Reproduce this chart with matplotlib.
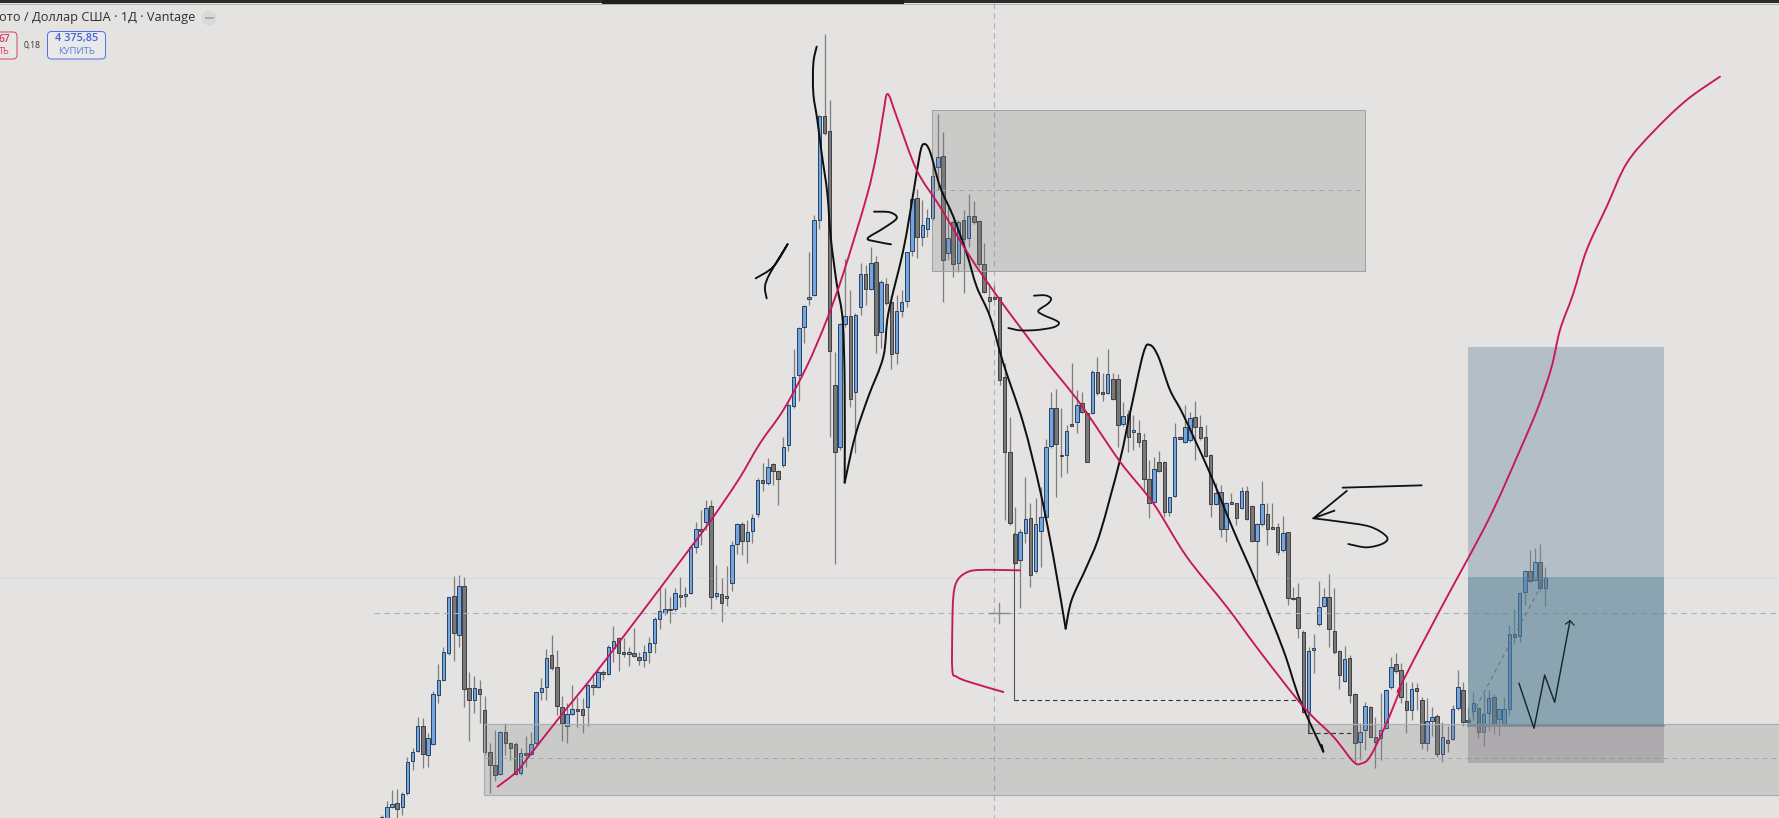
import numpy as np
import matplotlib
matplotlib.use("Agg")
import matplotlib.pyplot as plt
from matplotlib.patches import Rectangle, FancyBboxPatch, Circle, PathPatch
from matplotlib.path import Path

# ---- candle values, read segment by segment (levels on the picture scale) ----
seg1_open = [1012,1014,980,970,982,940,843,812,739,826,791,646,600,518,348,466,318,625,660,628,691,817,856,882,757,790,791,880,820,822,790,637,622,526,560,680,737,703,687,688,680,615,620,577,583,505,474,517,522,518,530,540,517,490,418,398,386,388,344,348,340,200,148,127,77,347,342,355,310,193,133,182,152]
seg1_close = [1022,980,973,986,942,845,815,737,823,775,643,600,515,352,458,318,626,660,625,643,817,856,886,757,788,804,882,818,822,791,637,625,535,565,678,730,703,688,689,706,615,617,575,582,500,484,520,520,515,527,539,515,490,418,394,386,390,340,350,341,202,148,153,85,350,340,368,348,195,133,184,157,115]
seg1_high = [1005,962,930,928,935,830,803,712,715,760,632,552,502,350,287,285,292,577,587,600,647,790,750,752,730,785,785,805,767,755,635,595,507,465,510,648,670,615,650,655,612,580,560,570,495,438,470,475,500,445,515,495,470,410,320,323,350,325,292,320,195,127,90,60,60,255,293,258,183,128,125,120,103]
seg1_low = [1030,1020,985,1014,1005,945,870,815,865,860,795,668,603,524,543,500,680,784,700,730,825,940,902,885,825,840,885,884,860,825,795,660,660,570,705,782,790,705,740,758,737,645,625,600,585,545,572,530,557,530,555,562,548,518,447,405,430,392,380,380,342,218,195,150,387,358,425,378,333,222,225,248,188]

seg2_open = [1482,1380,1390,1333,1352,1335,1275,1157,1065,920,838,825,600,288,332,1095,1280,912,887,1117,862,762,808,727,937,792,845,1000,872,842,694,535,650,626,595,440,408,700,607,730,600,653,588,603,733,832,832,832]
seg2_close = [1380,1390,1340,1353,1378,1280,1156,1070,925,857,830,600,287,340,993,1295,912,887,1138,885,762,808,730,945,785,850,1003,872,845,697,538,650,615,595,467,412,720,655,732,607,657,587,605,733,817,842,838,1080]
seg2_high = [1375,1330,1315,1330,1350,1252,1150,988,920,855,695,585,285,43,240,995,910,718,810,880,728,735,682,708,780,773,825,825,810,695,520,507,540,568,430,283,337,560,600,600,570,522,542,600,670,790,795,830]
seg2_low = [1490,1413,1395,1395,1455,1340,1293,1165,1143,970,855,828,628,345,1250,1632,1290,920,1160,1300,885,855,810,1000,985,855,1048,1033,890,862,707,715,678,650,600,510,845,720,770,755,820,680,612,740,820,880,840,1095]

seg3_open = [110,337,582,660,580,533,693,574,530,318,205,344,345,252,247,190,220,220,95,157,158,118,116,252,223,277,278,300,418,487,367,365,515,468,291,305,300,230,260,290,344,493,457,568,487,490,505,454,497,604,552,522,562,560,630,577,773,770,877,1115,930,853,798,770,872,932,1022,955,1063,1207,1170,1100,1190,1195,1165,1042,973]
seg3_close = [337,550,670,577,538,706,552,532,322,205,313,347,272,254,195,215,365,95,160,160,103,178,255,227,290,271,307,418,488,386,393,517,472,292,296,260,235,260,295,347,493,460,568,490,490,535,452,537,604,552,492,567,563,635,580,775,776,865,1117,932,923,802,770,868,935,1005,957,1065,1210,1177,1097,1190,1205,1170,1050,980,993]
seg3_high = [70,232,500,567,410,488,475,440,298,155,147,205,255,70,150,155,215,90,52,100,28,100,102,185,210,225,240,278,360,350,333,362,470,250,287,195,215,182,225,255,342,430,435,487,458,488,440,438,495,548,422,490,490,550,527,575,742,728,870,920,883,722,743,702,745,930,918,945,1060,1150,1085,1097,1130,1060,1047,952,940]
seg3_low = [540,555,672,803,610,742,700,680,535,323,472,410,400,255,280,220,367,222,165,182,162,180,320,258,335,330,322,450,533,490,395,530,528,472,298,310,305,360,300,350,530,495,590,605,490,555,508,540,607,725,557,615,565,645,635,795,780,893,1120,1180,1000,858,800,920,942,1048,1025,1088,1265,1260,1230,1192,1285,1260,1167,1048,1000]

seg4_open = [450,543,570,505,540,670,602,588,703,660,658,563,510,600,572,565,637,580,530,598,613,568,342,347,215,152,180,125,203]
seg4_close = [530,570,508,513,668,603,592,703,650,668,568,500,605,605,550,635,583,535,613,568,568,343,352,218,153,182,127,205,173]
seg4_high = [430,487,487,490,530,535,562,583,605,618,555,450,485,560,517,560,518,510,522,565,530,315,268,215,150,90,85,73,142]
seg4_low = [548,640,600,570,688,692,647,710,725,695,660,570,618,620,600,655,677,632,642,645,615,585,372,365,255,185,182,212,257]

black_a = [(230,80),(220,130),(220,220),(232,300),(245,400),(262,520),(272,650),(290,790),(308,900),(314,1100),(314,1388)]
black_b = [(314,1388),(345,1250),(385,1130),(430,1010),(445,880),(490,690),(520,520),(540,400),(552,372),(570,395),(600,500),(640,590),(680,700),(710,800),(750,890),(790,1030)]
black_c = [(70,250),(120,450),(160,650),(197,866)]
black_d = [(197,866),(215,780),(260,680),(300,580),(360,360),(390,220),(430,40),(450,15),(475,50),(510,150),(550,225),(630,400),(700,570),(770,730),(850,930),(900,1080),(970,1235)]
black_tick = [(965,1215),(970,1235)]
pink_a = [(383,920),(440,875),(480,825),(570,710),(660,600),(760,470),(870,325),(960,205),(1020,125),(1105,0)]
pink_b = [(60,1270),(130,1170),(200,1040),(260,900),(310,760),(380,530),(410,400),(430,280),(443,222),(470,290),(530,450),(600,560),(690,710),(780,840),(900,1000)]
pink_c = [(240,190),(360,365),(460,490),(560,650),(680,800),(780,935),(910,1100),(1000,1190),(1060,1265),(1085,1270),(1110,1250),(1155,1160),(1200,1050)]
pink_d = [(60,500),(180,270),(325,0)]
pink_e = [(120,1170),(175,1040),(215,920),(240,810),(280,700),(320,570),(380,440),(440,310),(520,215),(620,120),(720,50)]
pink_bracket = [(240,31),(115,30),(75,40),(50,65),(40,110),(37,200),(37,330),(50,350),(85,365),(190,396)]
digit_1 = [(47,775),(100,740),(143,672),(90,760),(75,800),(80,835)]
digit_2 = [(402,575),(450,577),(470,595),(430,625),(383,655),(410,665),(453,673)]
digit_3 = [(162,77),(195,76),(213,85),(205,100),(175,122),(190,135),(225,150),(237,160),(220,172),(170,180),(120,181),(85,174)]
digit_5_bar = [(1028,443),(1265,436)]
digit_5_arrow = [(1040,453),(940,535),(1003,512)]
digit_5_bowl = [(940,535),(1020,545),(1110,560),(1160,590),(1150,610),(1100,622),(1045,612)]
plan_zig = [(417,490),(462,625),(494,465),(524,547),(570,302)]
plan_head = [(557,312),(570,302),(582,315)]

BG = "#e4e3e2"
fig = plt.figure(figsize=(17.79, 8.18), dpi=100, facecolor=BG)
W, H = 1779, 818
px = 0.72  # one pixel in points

def lv(origin, step, raw):
    return origin + np.asarray(raw, float) / step

opens = np.concatenate([lv(480,3,seg1_open), lv(20,3,seg2_open), lv(340,3,seg3_open), lv(520,3,seg4_open)])
closes = np.concatenate([lv(480,3,seg1_close), lv(20,3,seg2_close), lv(340,3,seg3_close), lv(520,3,seg4_close)])
highs = np.concatenate([lv(480,3,seg1_high), lv(20,3,seg2_high), lv(340,3,seg3_high), lv(520,3,seg4_high)])
lows = np.concatenate([lv(480,3,seg1_low), lv(20,3,seg2_low), lv(340,3,seg3_low), lv(520,3,seg4_low)])
idx = np.arange(len(opens))

# candle axes: one index unit = 5.149 px
x0, step = 381.7, 5.149
ax = fig.add_axes([0, 0, 1, 1])
ax.set_xlim((0 - x0) / step, (W - x0) / step)
ax.set_ylim(H, 0)
ax.axis("off")

up = closes < opens
ax.vlines(idx, highs, lows, color="#5c5c5e", lw=1.3 * px, alpha=0.75, zorder=2)
top = np.minimum(opens, closes)
hgt = np.maximum(np.abs(opens - closes), 1.5)
ax.bar(idx[up], hgt[up], bottom=top[up], width=0.68, color="#74a6de", edgecolor="#2a4468", lw=1.0 * px, zorder=3)
ax.bar(idx[~up], hgt[~up], bottom=top[~up], width=0.68, color="#78787a", edgecolor="#424245", lw=1.0 * px, zorder=3)

# overlay in picture units
ov = fig.add_axes([0, 0, 1, 1], facecolor="none")
ov.set_xlim(0, W)
ov.set_ylim(H, 0)
ov.axis("off")

def rect(x1, y1, x2, y2, fc, a, ec="none", lw=0, z=4):
    ov.add_patch(Rectangle((x1, y1), x2 - x1, y2 - y1, facecolor=fc, alpha=a, edgecolor="none", zorder=z))
    if ec != "none":
        ov.add_patch(Rectangle((x1, y1), x2 - x1, y2 - y1, fill=False, edgecolor=ec, lw=lw, zorder=z))

DASH = (0, (5, 4))
# crosshair and level lines
ov.plot([994, 994], [3, H], color="#b0b0b0", lw=1.1 * px, ls=DASH, zorder=1)
ov.plot([374, W], [612.5, 612.5], color="#b0b0b0", lw=1.1 * px, ls=DASH, zorder=1)
ov.plot([0, W], [577.7, 577.7], color="#bcc6e6", lw=1 * px, ls=(0, (1, 2)), zorder=1)

# zones
rect(932, 110, 1365, 270.5, "#808080", 0.25, "#a0a0a0", 1.0 * px)
ov.plot([932, 1365], [190, 190], color="#a5a5a5", lw=1 * px, ls=DASH, zorder=4)
rect(484, 723.5, W + 5, 795, "#808080", 0.25, "#adadad", 1.2 * px)
ov.plot([484, W], [758.3, 758.3], color="#a5a5a5", lw=1 * px, ls=DASH, zorder=4)

# long-position box
rect(1467.5, 347, 1664, 577, "#728da2", 0.42, z=5)
rect(1467.5, 577, 1664, 726, "#557e95", 0.62, z=5)
rect(1467.5, 726, 1664, 762.5, "#8d868f", 0.45, z=5)
ov.plot([1467.5, 1664], [726, 726], color="#7c8a92", lw=1.6 * px, zorder=6)

def z2f(pts, ox, oy):
    a = np.asarray(pts, float)
    return ox + a[:, 0] / 3, oy + a[:, 1] / 3

def smooth(xs, ys, color, lw, z=8):
    p = np.column_stack([xs, ys])
    verts = [p[0]]
    codes = [Path.MOVETO]
    n = len(p)
    for i in range(n - 1):
        m0 = (p[i + 1] - p[max(i - 1, 0)]) / 6
        m1 = (p[min(i + 2, n - 1)] - p[i]) / 6
        verts += [p[i] + m0, p[i + 1] - m1, p[i + 1]]
        codes += [Path.CURVE4] * 3
    ov.add_patch(PathPatch(Path(verts, codes), fill=False, edgecolor=color, lw=lw * px,
                           capstyle="round", joinstyle="round", zorder=z))

def joined(parts):
    xs, ys = [], []
    for pts, ox, oy in parts:
        a, b = z2f(pts, ox, oy)
        xs += list(a)
        ys += list(b)
    return xs, ys

PINK, INK = "#c8175f", "#111111"
# dashed measuring lines
ov.plot([1014.3, 1300], [700, 700], color="#333333", lw=1.1 * px, zorder=7, dashes=(4, 3))
ov.plot([1014.3, 1014.3], [533, 700], color="#555555", lw=1.1 * px, zorder=7)
ov.plot([1307.7, 1307.7], [711.7, 733.3], color="#555555", lw=1.1 * px, zorder=7)
ov.plot([1307.7, 1353], [733.3, 733.3], color="#333333", lw=1.1 * px, zorder=7, dashes=(4, 3))
ov.plot(*z2f([(265, 605), (495, 175)], 1380, 520), color="#66727b", lw=1 * px, zorder=7, dashes=(4, 4))

# hand strokes
smooth(*z2f(black_a, 740, 20), INK, 2.0)
smooth(*joined([(black_b, 740, 20), (black_c, 1000, 340)]), INK, 2.0)
smooth(*z2f(black_d, 1000, 340), INK, 2.0)
smooth(*z2f(black_tick, 1000, 340), INK, 2.0)
smooth(*joined([(pink_a, 370, 480), (pink_b, 740, 20), (pink_c, 1000, 340), (pink_d, 1380, 520), (pink_e, 1480, 60)]), PINK, 1.9)
smooth(*z2f(pink_bracket, 940, 560), PINK, 1.9)
smooth(*z2f(digit_1, 740, 20), INK, 1.9)
smooth(*z2f(digit_2, 740, 20), INK, 1.9)
smooth(*z2f(digit_3, 980, 270), INK, 1.8)
smooth(*z2f(digit_5_bar, 1000, 340), INK, 1.8)
ov.plot(*z2f(digit_5_arrow, 1000, 340), color=INK, lw=1.8 * px, zorder=8)
smooth(*z2f(digit_5_bowl, 1000, 340), INK, 1.8)
ov.plot(*z2f(plan_zig, 1380, 520), color="#16222c", lw=1.4 * px, zorder=8)
ov.plot(*z2f(plan_head, 1380, 520), color="#16222c", lw=1.2 * px, zorder=8)

# cross cursor
ov.plot([989, 1009], [612.7, 612.7], color="#8b8b8b", lw=1.4 * px, zorder=7)
ov.plot([999, 999], [603, 623], color="#8b8b8b", lw=1.4 * px, zorder=7)

# top strip
rect(0, 0, W, 3.2, "#2b2b29", 1, z=9)
rect(602, 0, 904, 4.2, "#1f1f1d", 1, z=9)
ov.plot([0, W], [4.2, 4.2], color="#a8a8a6", lw=0.8 * px, zorder=9)

# header
FONT = "Open Sans"
ov.text(-1, 18, "ото / Доллар США · 1Д · Vantage", fontsize=9.2, family=FONT, color="#2f2f2f", va="center", ha="left", zorder=10)
ov.add_patch(Circle((209, 18), 7.5, facecolor="#d9d9d7", edgecolor="none", zorder=10))
ov.plot([205.5, 212.5], [18, 18], color="#aeaeae", lw=2 * px, zorder=11)
ov.add_patch(FancyBboxPatch((-12, 32), 29, 27, boxstyle="round,pad=0,rounding_size=4", facecolor="#e9e7e6", edgecolor="#cf4d68", lw=1 * px, zorder=10))
ov.text(10, 39, "67", fontsize=7.3, color="#d23e5e", family=FONT, ha="right", va="center", zorder=11, weight="semibold")
ov.text(10, 51, "ТЬ", fontsize=6.6, color="#d23e5e", family=FONT, ha="right", va="center", zorder=11)
ov.text(32.5, 45.5, "0,18", fontsize=6.2, color="#333333", family=FONT, ha="center", va="center", zorder=11)
ov.add_patch(FancyBboxPatch((47.5, 31.5), 58, 27.5, boxstyle="round,pad=0,rounding_size=4", facecolor="#e9e9ea", edgecolor="#4f74e0", lw=1 * px, zorder=10))
ov.text(77, 39, "4 375,85", fontsize=7.8, color="#3f62d8", family=FONT, ha="center", va="center", zorder=11, weight="semibold")
ov.text(77, 51, "КУПИТЬ", fontsize=6.8, color="#5b7be0", family=FONT, ha="center", va="center", zorder=11)

fig.savefig("out.png", dpi=100, facecolor=BG)
